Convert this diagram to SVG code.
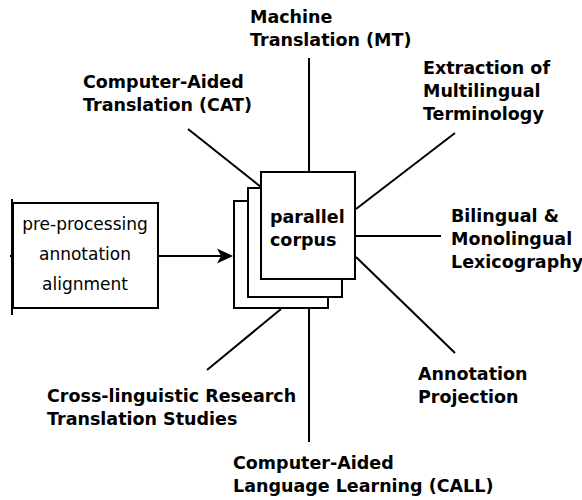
<svg xmlns="http://www.w3.org/2000/svg" width="582" height="500" viewBox="0 0 582 500">
<style>
  .box { fill: #fff; stroke: #000; stroke-width: 2; }
  .edge { stroke: #000; stroke-width: 2; fill: none; }
  .lbl { font-family: "DejaVu Sans", "Liberation Sans", sans-serif; font-weight: bold; font-size: 17.5px; fill: #000; }
  .reg { font-family: "DejaVu Sans", "Liberation Sans", sans-serif; font-size: 17px; fill: #000; text-anchor: middle; }
</style>
<defs>
  <marker id="arrow" viewBox="0 0 16 16" markerWidth="16" markerHeight="16" refX="4" refY="8" orient="auto" markerUnits="userSpaceOnUse">
    <path d="M0,0.5 L16,8 L0,15.5 L4,8 Z" fill="#000"/>
  </marker>
</defs>
<rect width="582" height="500" fill="#fff"/>

<g id="connectors">
  <line class="edge" x1="309" y1="58" x2="309" y2="172"/>
  <line class="edge" x1="188" y1="129" x2="261" y2="187"/>
  <line class="edge" x1="455" y1="133" x2="356" y2="209"/>
  <line class="edge" x1="356" y1="236" x2="441" y2="236"/>
  <line class="edge" x1="356" y1="257" x2="455" y2="353"/>
  <line class="edge" x1="309" y1="308" x2="309" y2="442"/>
  <line class="edge" x1="281" y1="309" x2="207" y2="370"/>
  <line class="edge" x1="158" y1="256" x2="221" y2="256" marker-end="url(#arrow)"/>
</g>

<g id="preprocessing">
  <rect class="box" x="13" y="203" width="145" height="105"/>
  <path class="edge" d="M12,199 L12,315 M10,256 L12,256" stroke-width="1.5"/>
  <text class="reg" x="85" y="230">pre-processing</text>
  <text class="reg" x="85" y="260">annotation</text>
  <text class="reg" x="85" y="290">alignment</text>
</g>

<g id="parallel-corpus">
  <rect class="box" x="234" y="201" width="94" height="107"/>
  <rect class="box" x="248" y="188" width="94" height="109"/>
  <rect class="box" x="261" y="172" width="94" height="107"/>
  <text class="lbl" x="270" y="223">parallel</text>
  <text class="lbl" x="270" y="246">corpus</text>
</g>

<g id="mt">
  <text class="lbl" x="250" y="23">Machine</text>
  <text class="lbl" x="250" y="46">Translation (MT)</text>
</g>
<g id="cat">
  <text class="lbl" x="83" y="88">Computer-Aided</text>
  <text class="lbl" x="83" y="111">Translation (CAT)</text>
</g>
<g id="terminology">
  <text class="lbl" x="423" y="74">Extraction of</text>
  <text class="lbl" x="423" y="97">Multilingual</text>
  <text class="lbl" x="423" y="120">Terminology</text>
</g>
<g id="lexicography">
  <text class="lbl" x="451" y="222">Bilingual &amp;</text>
  <text class="lbl" x="451" y="245">Monolingual</text>
  <text class="lbl" x="451" y="268">Lexicography</text>
</g>
<g id="annotation-projection">
  <text class="lbl" x="418" y="380">Annotation</text>
  <text class="lbl" x="418" y="403">Projection</text>
</g>
<g id="call">
  <text class="lbl" x="233" y="469">Computer-Aided</text>
  <text class="lbl" x="233" y="492">Language Learning (CALL)</text>
</g>
<g id="cross-linguistic">
  <text class="lbl" x="47" y="402">Cross-linguistic Research</text>
  <text class="lbl" x="47" y="425">Translation Studies</text>
</g>
</svg>
